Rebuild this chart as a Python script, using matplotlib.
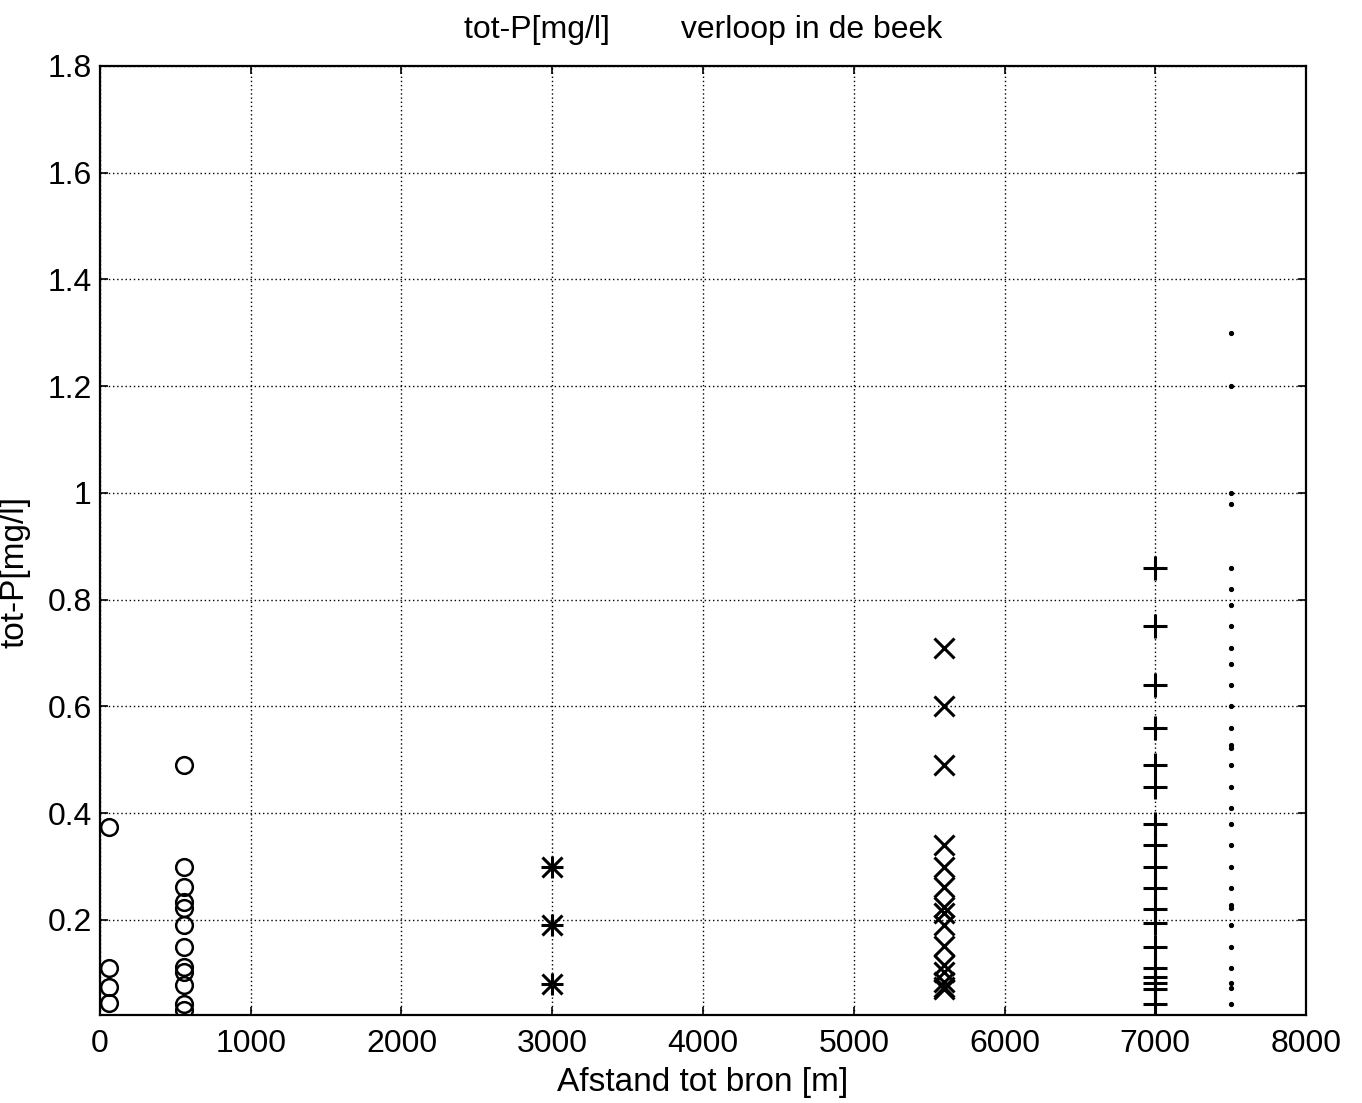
import matplotlib

matplotlib.use("Agg")
import matplotlib.pyplot as plt

plt.rcParams["font.family"] = ["Liberation Sans", "DejaVu Sans"]

# stations (distance to source, m) and measured tot-P values (mg/l)
x_bron = 60
p_bron = [0.375, 0.11, 0.075, 0.045]

x_550 = 555
p_550 = [0.49, 0.30, 0.262, 0.234, 0.223, 0.191, 0.15, 0.112, 0.103, 0.079, 0.043, 0.032]

x_3000 = 3000
p_3000 = [0.30, 0.19, 0.08]

x_5600 = 5600
p_5600 = [0.71, 0.60, 0.49, 0.34, 0.30, 0.262, 0.225, 0.213, 0.19, 0.152, 0.116, 0.103,
          0.084, 0.075, 0.071]

x_7000 = 7000
p_7000 = [0.86, 0.75, 0.64, 0.56, 0.49, 0.45, 0.38, 0.34, 0.30, 0.26, 0.22, 0.195, 0.15,
          0.11, 0.094, 0.082, 0.071, 0.043]

x_7500 = 7500
p_7500 = [1.30, 1.20, 1.00, 0.98, 0.86, 0.82, 0.79, 0.75, 0.71, 0.68, 0.64, 0.60, 0.56,
          0.528, 0.522, 0.49, 0.45, 0.41, 0.38, 0.34, 0.30, 0.26, 0.228, 0.222, 0.19, 0.15,
          0.11, 0.082, 0.073, 0.043]

fig = plt.figure(figsize=(13.62, 11.03), dpi=100)
ax = fig.add_axes([0.0734, 0.0798, 0.8855, 0.8604])

ax.plot([x_bron] * len(p_bron), p_bron, "o", mfc="none", mec="black", ms=12, mew=1.8)
ax.plot([x_550] * len(p_550), p_550, "o", mfc="none", mec="black", ms=12, mew=1.8)
# MATLAB-style star: plus and cross on top of each other
ax.plot([x_3000] * len(p_3000), p_3000, "+", color="black", ms=16, mew=2.2)
ax.plot([x_3000] * len(p_3000), p_3000, "x", color="black", ms=14, mew=2.2)
ax.plot([x_5600] * len(p_5600), p_5600, "x", color="black", ms=15, mew=2.2)
ax.plot([x_7000] * len(p_7000), p_7000, "+", color="black", ms=17, mew=2.2)
ax.plot([x_7500] * len(p_7500), p_7500, ".", color="black", ms=5.5)

ax.set_xlim(0, 8000)
ax.set_ylim(0.022, 1.8)
ax.set_xticks(range(0, 8001, 1000))
ax.set_yticks([0.2, 0.4, 0.6, 0.8, 1.0, 1.2, 1.4, 1.6, 1.8])
ax.set_yticklabels(["0.2", "0.4", "0.6", "0.8", "1", "1.2", "1.4", "1.6", "1.8"])
ax.grid(True, color="black", linestyle=(0, (1, 2)), linewidth=1.0)
ax.tick_params(direction="in", labelsize=23, length=6, width=1.2, top=True, right=True)
ax.tick_params(axis="x", pad=10)
ax.tick_params(axis="y", pad=6)
for s in ax.spines.values():
    s.set_linewidth(1.6)

ax.set_xlabel("Afstand tot bron [m]", fontsize=24, labelpad=6)
ax.set_ylabel("tot-P[mg/l]", fontsize=24)
ax.yaxis.set_label_coords(-0.058, 0.467)
ax.set_title("tot-P[mg/l]        verloop in de beek", fontsize=23, pad=20)

fig.savefig("out.png", dpi=100)
